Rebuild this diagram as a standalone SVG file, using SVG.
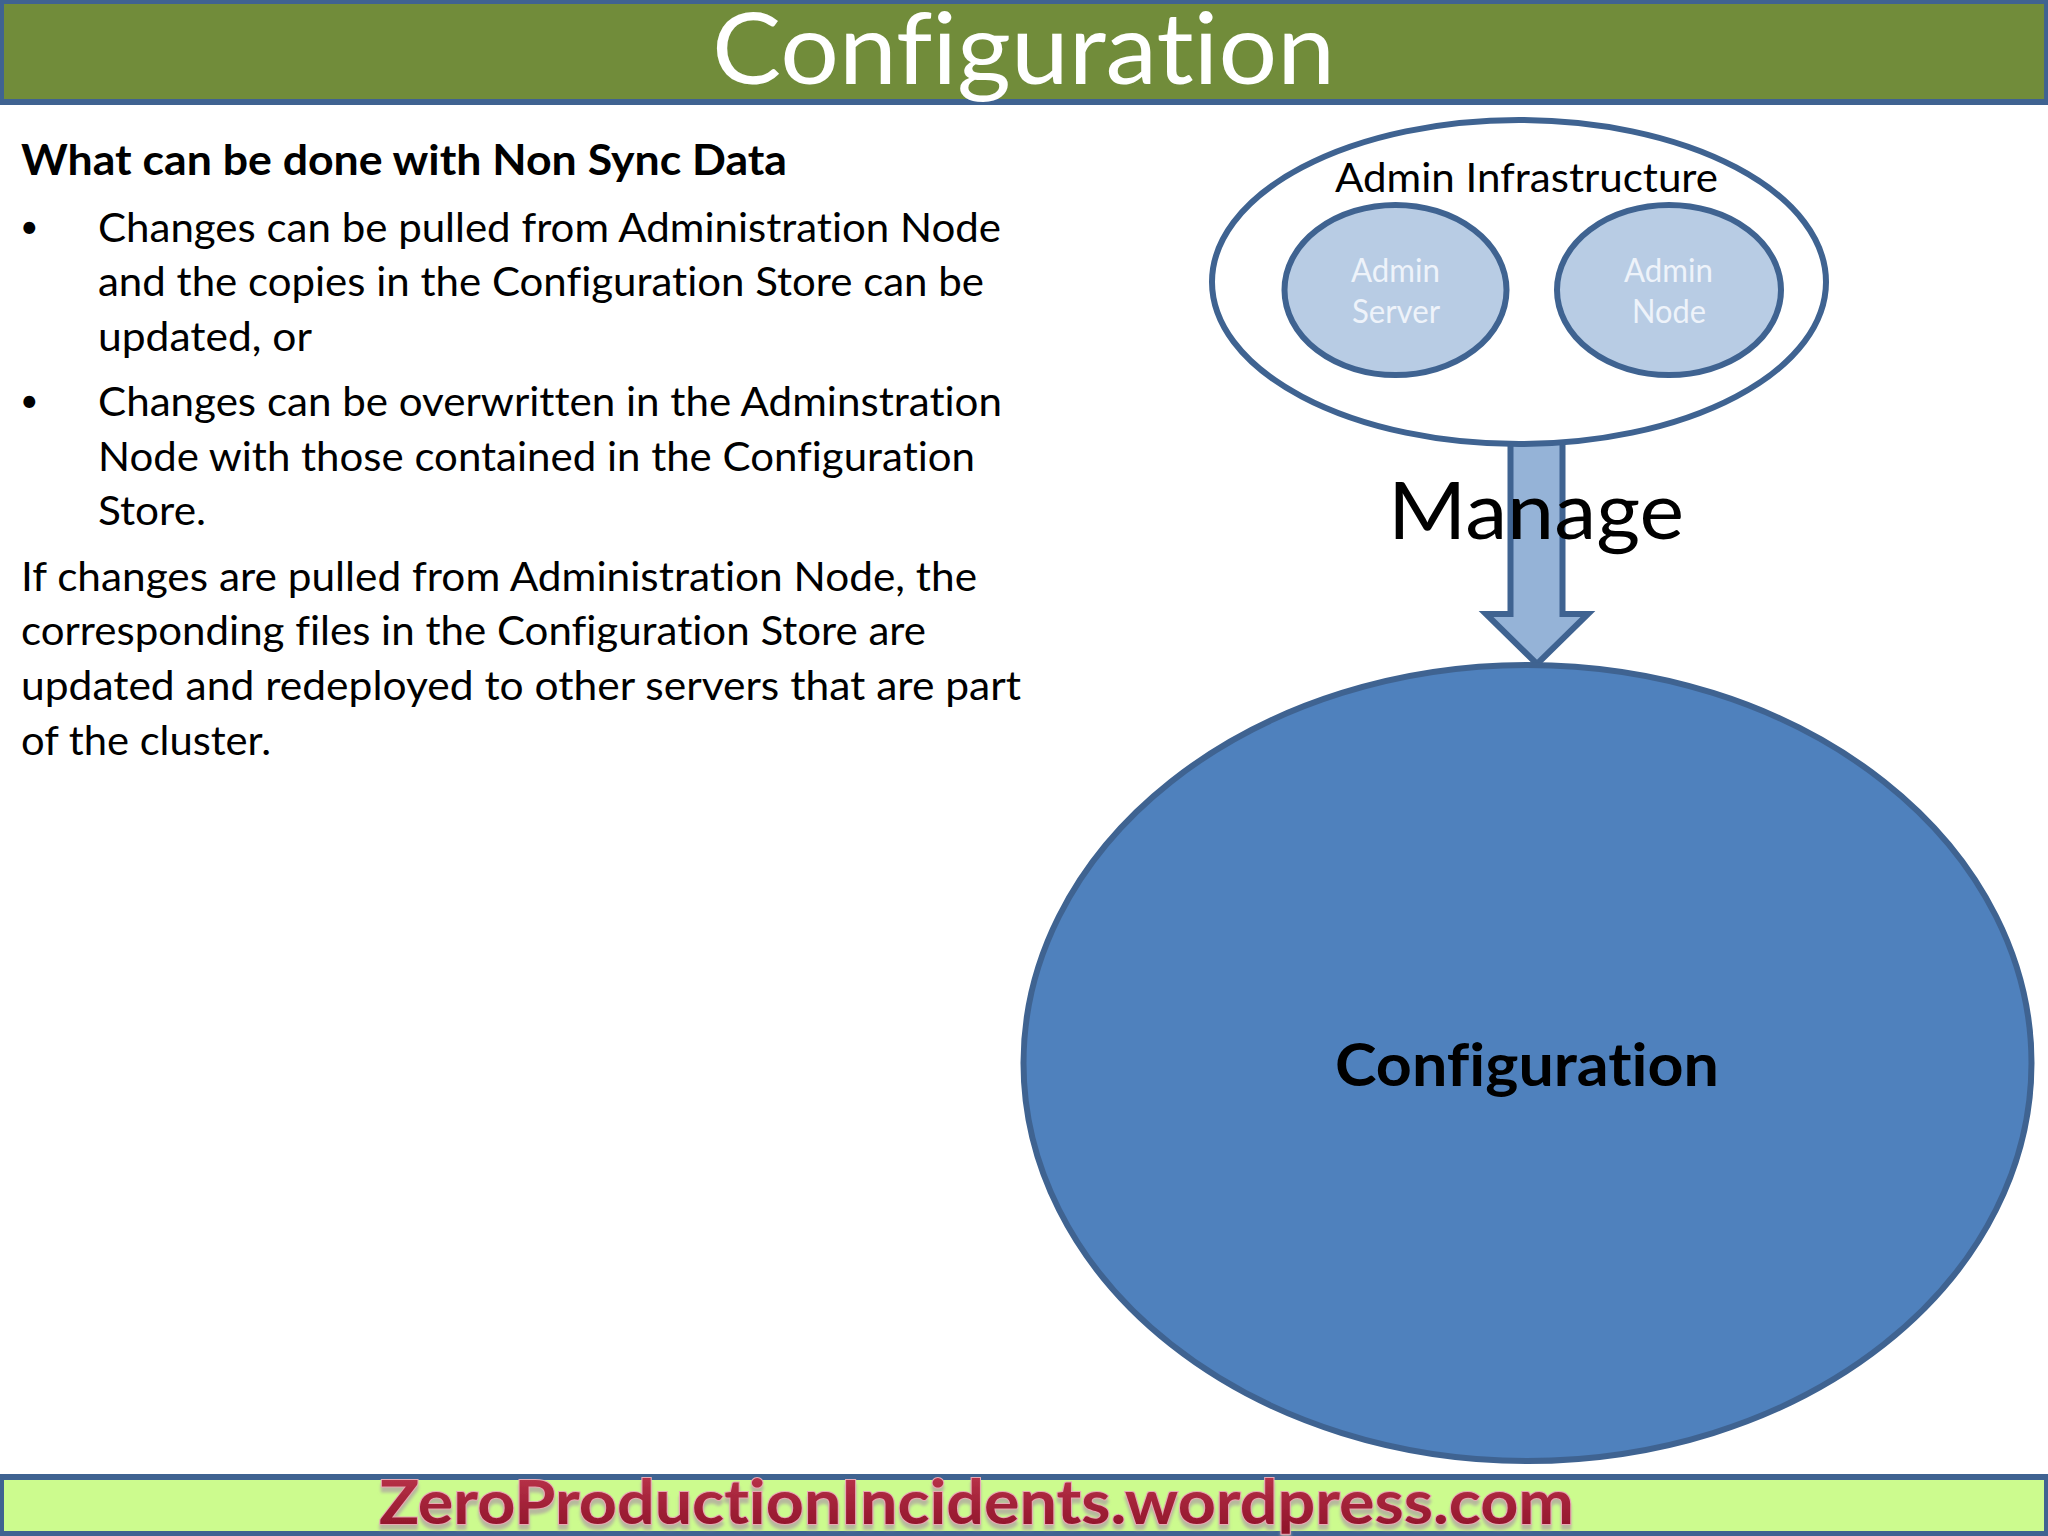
<svg xmlns="http://www.w3.org/2000/svg" width="2048" height="1536" viewBox="0 0 2048 1536">
<defs>
<linearGradient id="ft" x1="0" y1="0" x2="0" y2="1"><stop offset="0" stop-color="#c23a50"/><stop offset="1" stop-color="#8a1026"/></linearGradient>
<filter id="sh" x="-2%" y="-20%" width="104%" height="150%"><feDropShadow dx="0" dy="5" stdDeviation="1.5" flood-color="#b0a8a0" flood-opacity="0.8"/></filter>
</defs>
<style>
text{font-family:"Lato","Carlito","Open Sans",sans-serif;fill:#000;font-variant-ligatures:none}
.body{font-size:40px}
.bullet{font-size:32px}
.shape{stroke:#3f6391;stroke-width:6}
.inner{fill:#b8cce4}
.lbl{font-size:32px;fill:#eef3fa}
</style>
<rect width="2048" height="1536" fill="#fff"/>
<g id="header">
<rect class="shape" x="1" y="1" width="2046" height="101" fill="#718c3a"/>
<text x="712" y="84" font-size="98" style="fill:#fff" textLength="623" lengthAdjust="spacingAndGlyphs">Configuration</text>
</g>
<g id="body-text">
<text x="21" y="175" font-size="42" font-weight="700" textLength="766" lengthAdjust="spacingAndGlyphs">What can be done with Non Sync Data</text>
<text class="bullet" x="20" y="238">•</text>
<text class="body" x="98" y="242" textLength="903" lengthAdjust="spacingAndGlyphs">Changes can be pulled from Administration Node</text>
<text class="body" x="98" y="296" textLength="886" lengthAdjust="spacingAndGlyphs">and the copies in the Configuration Store can be</text>
<text class="body" x="98" y="351" textLength="214" lengthAdjust="spacingAndGlyphs">updated, or</text>
<text class="bullet" x="20" y="412">•</text>
<text class="body" x="98" y="416" textLength="904" lengthAdjust="spacingAndGlyphs">Changes can be overwritten in the Adminstration</text>
<text class="body" x="98" y="471" textLength="877" lengthAdjust="spacingAndGlyphs">Node with those contained in the Configuration</text>
<text class="body" x="98" y="525" textLength="108" lengthAdjust="spacingAndGlyphs">Store.</text>
<text class="body" x="21" y="591" textLength="956" lengthAdjust="spacingAndGlyphs">If changes are pulled from Administration Node, the</text>
<text class="body" x="21" y="645" textLength="905" lengthAdjust="spacingAndGlyphs">corresponding files in the Configuration Store are</text>
<text class="body" x="21" y="700" textLength="1000" lengthAdjust="spacingAndGlyphs">updated and redeployed to other servers that are part</text>
<text class="body" x="21" y="755" textLength="250" lengthAdjust="spacingAndGlyphs">of the cluster.</text>
</g>
<g id="connectors">
<path id="manage-arrow" class="shape" fill="#95b3d7" d="M1510.5 440V614H1486L1537 664L1588 614H1562.5V440Z"/>
</g>
<g id="admin-infrastructure">
<ellipse class="shape" cx="1519" cy="282" rx="307" ry="162" fill="#fff"/>
<text x="1335" y="192" font-size="40" textLength="383" lengthAdjust="spacingAndGlyphs">Admin Infrastructure</text>
</g>
<g id="admin-server">
<ellipse class="shape inner" cx="1395.5" cy="290" rx="111" ry="85"/>
<text class="lbl" x="1351" y="282" textLength="89" lengthAdjust="spacingAndGlyphs">Admin</text>
<text class="lbl" x="1352" y="323" textLength="88" lengthAdjust="spacingAndGlyphs">Server</text>
</g>
<g id="admin-node">
<ellipse class="shape inner" cx="1669" cy="290" rx="112" ry="85"/>
<text class="lbl" x="1624" y="282" textLength="89" lengthAdjust="spacingAndGlyphs">Admin</text>
<text class="lbl" x="1632" y="323" textLength="74" lengthAdjust="spacingAndGlyphs">Node</text>
</g>
<g id="configuration">
<ellipse class="shape" cx="1527.5" cy="1063" rx="504" ry="398" fill="#4f81bd"/>
<text x="1335" y="1086" font-size="60" font-weight="700" textLength="384" lengthAdjust="spacingAndGlyphs">Configuration</text>
</g>
<text id="manage-label" x="1388" y="539" font-size="80" textLength="296" lengthAdjust="spacingAndGlyphs">Manage</text>
<g id="footer">
<rect class="shape" x="1" y="1477" width="2046" height="57" fill="#ccfb8e"/>
<text x="379" y="1524" font-size="62" textLength="1195" lengthAdjust="spacingAndGlyphs" filter="url(#sh)" style="fill:url(#ft);stroke:#e8a8b4;stroke-width:2;paint-order:stroke;font-weight:700">ZeroProductionIncidents.wordpress.com</text>
</g>
</svg>
